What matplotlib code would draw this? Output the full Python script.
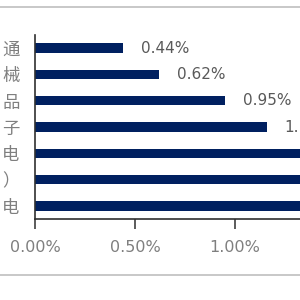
import matplotlib
matplotlib.use("Agg")
import matplotlib.pyplot as plt
from matplotlib.lines import Line2D
from matplotlib.ticker import FuncFormatter

plt.rcParams['font.family'] = ['Noto Sans CJK SC', 'DejaVu Sans']

categories = ["通", "械", "品", "子", "电", "）", "电"]
values = [0.44, 0.62, 0.95, 1.16, 1.60, 1.90, 2.30]
value_labels = ["0.44%", "0.62%", "0.95%", "1.16%", "1.60%", "1.90%", "2.30%"]
xticks = [0.0, 0.5, 1.0]

bar_color = "#002060"
text_color = "#7f7f7f"

fig = plt.figure(figsize=(3, 3), dpi=100)
ax = fig.add_axes([35/300, 81/300, 265/300, 184/300])

ypos = list(range(len(categories)))
ax.barh(ypos, values, height=0.36, color=bar_color)
ax.set_ylim(len(categories) - 0.5, -0.5)
ax.set_xlim(0, 1.325)

for y, v, lab in zip(ypos, values, value_labels):
    ax.text(v + 0.088, y, lab, va="center", ha="left", fontsize=11,
            color="#595959", family="DejaVu Sans")

ax.set_yticks(ypos)
ax.set_yticklabels(categories, fontsize=12.5, color=text_color)
ax.tick_params(axis="y", length=0, pad=11)
ax.set_xticks(xticks)
ax.xaxis.set_major_formatter(FuncFormatter(lambda x, p: f"{x:.2f}%"))
ax.tick_params(axis="x", direction="out", length=7, width=1.2, color="#404040",
               labelsize=11.5, labelcolor=text_color, pad=8)
for lbl in ax.get_xticklabels():
    lbl.set_family("DejaVu Sans")

for s in ["top", "right"]:
    ax.spines[s].set_visible(False)
ax.spines["left"].set_color("#303030")
ax.spines["bottom"].set_color("#303030")
ax.spines["left"].set_linewidth(1.2)
ax.spines["bottom"].set_linewidth(1.2)

fig.add_artist(Line2D([0, 1], [1 - 7/300, 1 - 7/300], transform=fig.transFigure,
                      color="#bfbfbf", lw=1.2))
fig.add_artist(Line2D([0, 1], [1 - 275/300, 1 - 275/300], transform=fig.transFigure,
                      color="#bfbfbf", lw=1.2))

fig.savefig("out.png", dpi=100)
